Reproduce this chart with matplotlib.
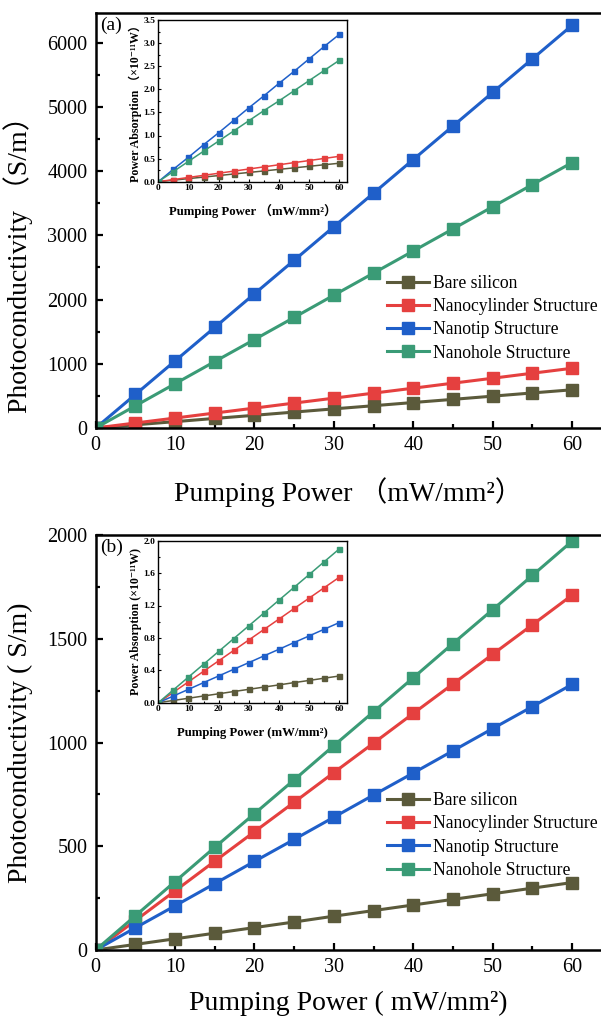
import matplotlib
matplotlib.use("Agg")
import matplotlib.pyplot as plt
from matplotlib.ticker import MultipleLocator

# pumping power (mW/mm^2)
power = [0, 5, 10, 15, 20, 25, 30, 35, 40, 45, 50, 55, 60]

names = ["Bare silicon", "Nanocylinder Structure", "Nanotip Structure", "Nanohole Structure"]
colors = ["#5b5a3b", "#e5403f", "#1f5fc9", "#3a9b76"]

# (a) photoconductivity (S/m)
a_bare = [0, 50, 99, 149, 198, 248, 298, 347, 397, 446, 496, 546, 595]
a_cyl = [0, 78, 155, 233, 310, 388, 465, 543, 620, 698, 775, 853, 930]
a_tip = [0, 522, 1045, 1567, 2090, 2612, 3135, 3657, 4180, 4702, 5225, 5747, 6270]
a_hole = [0, 345, 690, 1035, 1378, 1722, 2068, 2412, 2756, 3100, 3445, 3790, 4132]

# (a) inset: power absorption (x1e-11 W)
ai_bare = [0, 0.033, 0.067, 0.100, 0.133, 0.167, 0.200, 0.233, 0.267, 0.300, 0.333, 0.367, 0.400]
ai_cyl = [0, 0.046, 0.092, 0.138, 0.183, 0.229, 0.275, 0.321, 0.367, 0.413, 0.458, 0.504, 0.550]
ai_tip = [0, 0.27, 0.53, 0.80, 1.06, 1.33, 1.60, 1.86, 2.13, 2.39, 2.66, 2.93, 3.19]
ai_hole = [0, 0.22, 0.44, 0.66, 0.88, 1.10, 1.32, 1.54, 1.75, 1.97, 2.19, 2.41, 2.63]

# (b) photoconductivity (S/m)
b_bare = [0, 27, 54, 81, 108, 135, 163, 190, 217, 244, 271, 298, 325]
b_cyl = [0, 142, 285, 428, 570, 712, 855, 997, 1140, 1282, 1425, 1567, 1710]
b_tip = [0, 107, 213, 320, 427, 533, 640, 747, 853, 960, 1067, 1173, 1280]
b_hole = [0, 165, 330, 495, 657, 820, 985, 1148, 1312, 1477, 1640, 1805, 1970]

# (b) inset: power absorption (x1e-11 W)
bi_bare = [0, 0.028, 0.055, 0.083, 0.110, 0.138, 0.165, 0.193, 0.220, 0.248, 0.275, 0.303, 0.330]
bi_cyl = [0, 0.129, 0.258, 0.388, 0.517, 0.646, 0.775, 0.904, 1.033, 1.163, 1.292, 1.421, 1.550]
bi_tip = [0, 0.083, 0.165, 0.248, 0.330, 0.413, 0.495, 0.578, 0.660, 0.743, 0.825, 0.908, 0.990]
bi_hole = [0, 0.158, 0.317, 0.475, 0.633, 0.792, 0.950, 1.108, 1.267, 1.425, 1.583, 1.742, 1.900]

SERIF = ["Liberation Serif", "DejaVu Serif", "Noto Sans CJK SC"]
plt.rcParams["font.family"] = SERIF

W, H = 601, 1023
fig = plt.figure(figsize=(W / 100, H / 100), dpi=100)


def px_axes(left, top, right, bottom):
    return fig.add_axes([left / W, 1 - bottom / H, (right - left) / W, (bottom - top) / H])


def main_panel(ax, series, ylim, ymaj, ylab, xlab, tag, legend_y, ylab_y, xpad):
    for ys, c, n in zip(series, colors, names):
        ax.plot(power, ys, color=c, lw=2.2, marker="s", ms=8.5, label=n)
    ax.set_xlim(0, 63.65)
    ax.set_ylim(*ylim)
    ax.xaxis.set_major_locator(MultipleLocator(10))
    ax.xaxis.set_minor_locator(MultipleLocator(5))
    ax.yaxis.set_major_locator(MultipleLocator(ymaj))
    ax.yaxis.set_minor_locator(MultipleLocator(ymaj / 2))
    ax.tick_params(which="both", direction="in", top=False, right=False, width=1.6, labelsize=14.5)
    ax.tick_params(which="major", length=5, pad=6)
    ax.tick_params(which="minor", length=3)
    ax.spines["right"].set_visible(False)
    for s in ("left", "top", "bottom"):
        ax.spines[s].set_linewidth(1.8)
    ax.set_ylabel(ylab, fontsize=20, labelpad=6)
    ax.yaxis.set_label_coords(-0.125, ylab_y)
    ax.set_xlabel(xlab, fontsize=20, labelpad=xpad)
    ax.text(0.008, 0.97, tag, transform=ax.transAxes, fontsize=14, ha="left", va="center")
    ax.legend(loc="upper left", bbox_to_anchor=(0.576, legend_y), frameon=False, fontsize=12.7,
              handlelength=2.4, handletextpad=0.2, labelspacing=0.35, borderpad=0, borderaxespad=0)


def inset_panel(ax, series, ylim, ymaj, ylab, xlab, xpad):
    for ys, c in zip(series, colors):
        ax.plot(power, ys, color=c, lw=1.1, marker="s", ms=3.6)
    ax.set_xlim(0, 62.4)
    ax.set_ylim(*ylim)
    ax.xaxis.set_major_locator(MultipleLocator(10))
    ax.xaxis.set_minor_locator(MultipleLocator(5))
    ax.yaxis.set_major_locator(MultipleLocator(ymaj))
    ax.yaxis.set_minor_locator(MultipleLocator(ymaj / 2))
    ax.tick_params(which="both", direction="in", width=0.8, labelsize=6.8, pad=2)
    ax.tick_params(which="major", length=2.5)
    ax.tick_params(which="minor", length=1.5)
    for lab in ax.get_xticklabels() + ax.get_yticklabels():
        lab.set_fontweight("bold")
    for s in ax.spines.values():
        s.set_linewidth(1.0)
    ax.set_ylabel(ylab, fontsize=8.6, fontweight="bold", labelpad=1)
    ax.set_xlabel(xlab, fontsize=9.2, fontweight="bold", labelpad=xpad)


axA = px_axes(95.7, 12.5, 601, 428)
main_panel(axA, [a_bare, a_cyl, a_tip, a_hole], (0, 6470), 1000,
           "Photoconductivity （S/m）", "Pumping Power （mW/mm²）", "(a)", 0.368, 0.41, 16)

axB = px_axes(95.7, 535, 601, 950)
main_panel(axB, [b_bare, b_cyl, b_tip, b_hole], (0, 2000), 500,
           "Photoconductivity ( S/m)", "Pumping Power ( mW/mm²)", "(b)", 0.38, 0.5, 10)

insA = px_axes(158.3, 20, 346.7, 181.7)
inset_panel(insA, [ai_bare, ai_cyl, ai_tip, ai_hole], (0, 3.5), 0.5,
            "Power Absorption （×10⁻¹¹W）", "Pumping Power （mW/mm²）", 8)

insB = px_axes(158.3, 540.7, 346.7, 702.7)
inset_panel(insB, [bi_bare, bi_cyl, bi_tip, bi_hole], (0, 2.0), 0.4,
            "Power Absorption (×10⁻¹¹W)", "Pumping Power (mW/mm²)", 10)

fig.savefig("out.png", dpi=100)
